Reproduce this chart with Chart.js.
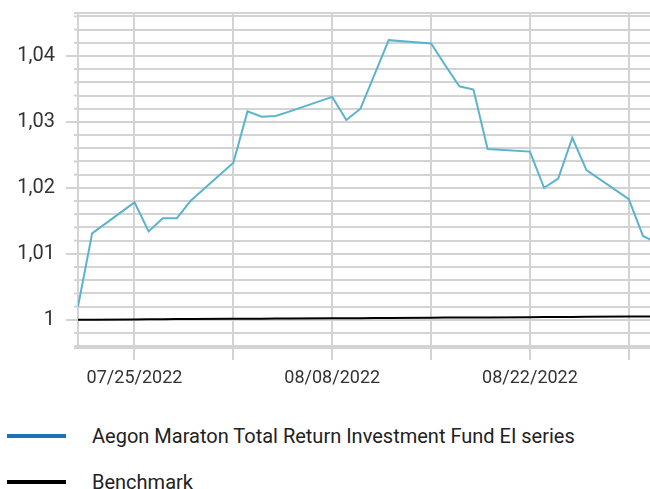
<!DOCTYPE html>
<html>
<head>
<meta charset="utf-8">
<script src="https://cdn.jsdelivr.net/npm/chart.js@4/dist/chart.umd.min.js"></script>
<style>
  html, body { margin: 0; padding: 0; background: #fff; }
  #wrap { position: relative; width: 650px; height: 489px; overflow: hidden; }
  canvas { position: absolute; left: 0; top: 0; }
  .leg { position: absolute; left: 0; font-family: Roboto, "Liberation Sans", Arial, sans-serif; font-size: 20px; color: #222; white-space: nowrap; line-height: 24px; }
  .leg .sw { position: absolute; left: 7px; width: 59px; height: 4px; top: -2px; }
  .leg .tx { position: absolute; left: 92px; top: -12px; }
</style>
</head>
<body>
<div id="wrap">
  <canvas id="c" width="650" height="400"></canvas>
  <div class="leg" style="top:436px;"><div class="sw" style="background:#1a73b8;"></div><div class="tx" id="l1"></div></div>
  <div class="leg" style="top:482px;"><div class="sw" style="background:#000;"></div><div class="tx" id="l2"></div></div>
</div>
<script>
// ---- data ----
const dates = ["07/21/2022","07/22/2022","07/25/2022","07/26/2022","07/27/2022","07/28/2022","07/29/2022",
  "08/01/2022","08/02/2022","08/03/2022","08/04/2022","08/05/2022",
  "08/08/2022","08/09/2022","08/10/2022","08/11/2022","08/12/2022",
  "08/15/2022","08/16/2022","08/17/2022","08/18/2022","08/19/2022",
  "08/22/2022","08/23/2022","08/24/2022","08/25/2022","08/26/2022",
  "08/29/2022","08/30/2022","08/31/2022"];
const fundValues = [1.0020,1.0131,1.0178,1.0134,1.0154,1.0154,1.0181,
  1.0238,1.0316,1.0308,1.0309,1.0316,
  1.0338,1.0303,1.0320,1.0372,1.0424,
  1.0419,1.0386,1.0354,1.0349,1.0259,
  1.0255,1.0200,1.0214,1.0276,1.0227,
  1.0183,1.0127,1.0117];
const benchmarkValues = [1.00000,1.00001,1.00005,1.00006,1.00007,1.00009,1.00010,
  1.00013,1.00015,1.00016,1.00017,1.00018,
  1.00022,1.00023,1.00024,1.00026,1.00027,
  1.00030,1.00032,1.00033,1.00034,1.00035,
  1.00039,1.00040,1.00041,1.00043,1.00044,
  1.00048,1.00049,1.00050];
const seriesNames = ["Aegon Maraton Total Return Investment Fund EI series", "Benchmark"];
const xGridDates = ["07/25/2022","08/01/2022","08/08/2022","08/15/2022","08/22/2022","08/29/2022"];
const xLabelDates = ["07/25/2022","08/08/2022","08/22/2022"];
const yMajorValues = [1, 1.01, 1.02, 1.03, 1.04];
const yMajorLabels = ["1", "1,01", "1,02", "1,03", "1,04"];
const yMinorStep = 0.002;
const yMin = 0.99571, yMax = 1.04652;
const xStartDate = "07/21/2022";
const xEndExtra = 36.5; // days after reference date

// ---- helpers ----
const refDate = "07/25/2022";
function dayNum(s) { const [m, d, y] = s.split('/').map(Number); return Date.UTC(y, m - 1, d) / 86400000; }
function dayOff(s) { return dayNum(s) - dayNum(refDate); }

document.getElementById('l1').textContent = seriesNames[0];
document.getElementById('l2').textContent = seriesNames[1];

const yTickVals = [yMin];
for (let v = Math.ceil(yMin / yMinorStep) * yMinorStep; v < yMax - 1e-9; v += yMinorStep) yTickVals.push(Math.round(v * 1e6) / 1e6);
yTickVals.push(yMax);
function isMajor(v) { return yMajorValues.some(m => Math.abs(m - v) < 1e-7); }

const GRID = '#d3d3d3';
const FONT = "Roboto, 'Liberation Sans', Arial, sans-serif";

const minorTicks = {
  id: 'minorTicks',
  afterDraw(chart) {
    const y = chart.scales.y, ctx = chart.ctx, left = chart.chartArea.left;
    ctx.save();
    ctx.strokeStyle = GRID; ctx.lineWidth = 2;
    y.ticks.forEach(t => {
      if (isMajor(t.value)) return;
      const p = y.getPixelForValue(t.value);
      ctx.beginPath(); ctx.moveTo(left - 4, p); ctx.lineTo(left, p); ctx.stroke();
    });
    ctx.restore();
  }
};

new Chart(document.getElementById('c'), {
  type: 'line',
  data: {
    datasets: [
      { label: seriesNames[0], data: dates.map((d, i) => ({ x: dayOff(d), y: fundValues[i] })),
        borderColor: '#5bb4cc', borderWidth: 2, pointRadius: 0, tension: 0 },
      { label: seriesNames[1], data: dates.map((d, i) => ({ x: dayOff(d), y: benchmarkValues[i] })),
        borderColor: '#000', borderWidth: 2, pointRadius: 0, tension: 0 }
    ]
  },
  options: {
    responsive: false, animation: false,
    layout: { padding: { top: 13, right: 0, bottom: 0, left: 0 } },
    plugins: { legend: { display: false }, tooltip: { enabled: false } },
    scales: {
      x: {
        type: 'linear', min: dayOff(xStartDate), max: xEndExtra,
        afterBuildTicks: s => { s.ticks = xGridDates.map(d => ({ value: dayOff(d) })); },
        afterFit: s => { s.height = 52; s.paddingLeft = 0; s.paddingRight = 0; },
        grid: { color: GRID, lineWidth: 2, tickLength: 12, tickColor: GRID, tickWidth: 2 },
        border: { color: GRID, width: 2 },
        ticks: {
          autoSkip: false, maxRotation: 0, padding: 8, color: '#333',
          font: { family: FONT, size: 18 },
          callback: v => { const d = xLabelDates.find(s => Math.abs(dayOff(s) - v) < 1e-6); return d || ''; }
        }
      },
      y: {
        type: 'linear', min: yMin, max: yMax,
        afterBuildTicks: s => { s.ticks = yTickVals.map(v => ({ value: v })); },
        afterFit: s => { s.width = 78; s.paddingTop = 0; s.paddingBottom = 0; },
        grid: { color: GRID, lineWidth: 2, tickLength: 12, tickWidth: 2,
          tickColor: c => (c.tick && isMajor(c.tick.value)) ? GRID : 'rgba(0,0,0,0)' },
        border: { color: GRID, width: 2 },
        ticks: {
          autoSkip: false, padding: 11, color: '#333',
          font: { family: FONT, size: 20 },
          callback: v => { const i = yMajorValues.findIndex(m => Math.abs(m - v) < 1e-7); return i >= 0 ? yMajorLabels[i] : ''; }
        }
      }
    }
  },
  plugins: [minorTicks]
});
</script>
</body>
</html>
